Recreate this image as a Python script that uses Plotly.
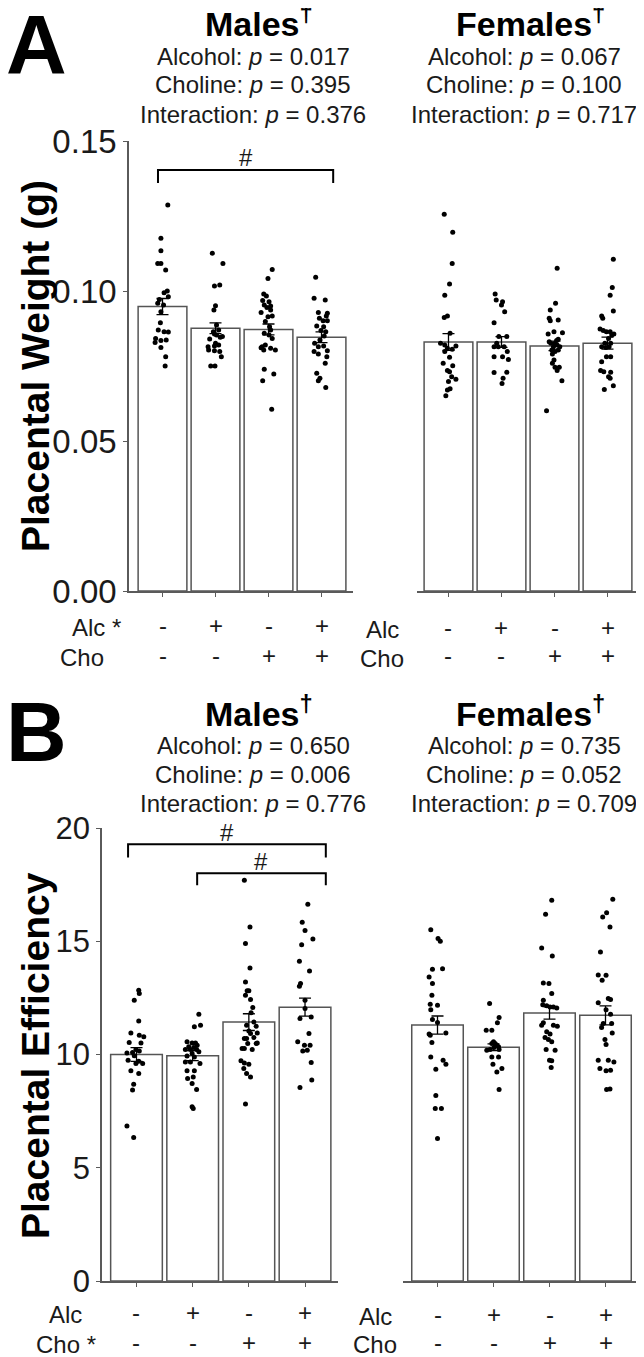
import plotly.graph_objects as go

# ---------------- data ----------------
alc_signs = ["-", "+", "-", "+"]
cho_signs = ["-", "-", "+", "+"]

# Panel A: placental weight (g)
weight_male_mean = [0.0948, 0.0876, 0.0872, 0.0846]
weight_male_sem = [0.0027, 0.0018, 0.0018, 0.0018]
weight_female_mean = [0.0830, 0.0830, 0.0817, 0.0826]
weight_female_sem = [0.0028, 0.0018, 0.0016, 0.0020]

weight_male_pts = [
    [0.1287, 0.1176, 0.1134, 0.1092, 0.1092, 0.1070, 0.1000, 0.0994, 0.0972, 0.0981, 0.0959, 0.0953,
     0.0931, 0.0894, 0.0870, 0.0864, 0.0863, 0.0842, 0.0835, 0.0837, 0.0828, 0.0812, 0.0781, 0.0750],
    [0.1126, 0.1092, 0.1017, 0.1020, 0.0951, 0.0937, 0.0887, 0.0864, 0.0870, 0.0857, 0.0848, 0.0853,
     0.0840, 0.0846, 0.0826, 0.0814, 0.0817, 0.0820, 0.0803, 0.0801, 0.0798, 0.0781, 0.0750, 0.0750],
    [0.1072, 0.1042, 0.0990, 0.0983, 0.0968, 0.0964, 0.0953, 0.0950, 0.0945, 0.0928, 0.0937, 0.0917,
     0.0914, 0.0898, 0.0881, 0.0870, 0.0859, 0.0853, 0.0842, 0.0814, 0.0820, 0.0809, 0.0811, 0.0803,
     0.0803, 0.0739, 0.0723, 0.0701, 0.0606],
    [0.1046, 0.0976, 0.0970, 0.0928, 0.0926, 0.0917, 0.0909, 0.0901, 0.0901, 0.0883, 0.0881, 0.0868,
     0.0864, 0.0850, 0.0837, 0.0826, 0.0814, 0.0817, 0.0801, 0.0798, 0.0790, 0.0781, 0.0759, 0.0726,
     0.0709, 0.0701, 0.0678],
]
weight_male_jit = [
    [0.10, -0.03, -0.03, -0.09, -0.03, 0.06, 0.09, 0.03, -0.06, 0.11, -0.09, 0.02, -0.03, -0.04, -0.08,
     0.03, 0.11, -0.13, -0.03, 0.07, -0.14, -0.03, 0.06, 0.05],
    [-0.06, 0.14, -0.02, 0.08, 0.00, -0.03, 0.02, -0.04, 0.06, -0.02, 0.13, 0.02, -0.11, 0.09, 0.00,
     -0.14, -0.02, 0.06, -0.13, -0.02, 0.08, 0.11, -0.09, -0.01],
    [0.07, -0.01, -0.09, -0.04, -0.11, 0.01, -0.08, 0.04, -0.03, -0.14, 0.04, 0.07, -0.01, -0.06, 0.02,
     0.04, -0.08, 0.01, 0.07, -0.12, -0.06, 0.04, -0.14, -0.09, 0.13, -0.08, 0.10, -0.11, 0.06],
    [-0.11, -0.14, 0.07, -0.06, 0.11, 0.09, -0.04, 0.03, 0.11, -0.09, 0.04, -0.01, 0.08, 0.05, -0.03,
     -0.13, -0.06, 0.04, 0.11, -0.14, -0.06, 0.10, 0.07, -0.09, -0.03, -0.06, 0.08],
]
weight_female_pts = [
    [0.1256, 0.1196, 0.1092, 0.1023, 0.0986, 0.0912, 0.0917, 0.0859, 0.0826, 0.0820, 0.0817, 0.0809,
     0.0806, 0.0798, 0.0779, 0.0759, 0.0751, 0.0735, 0.0731, 0.0714, 0.0706, 0.0698, 0.0674, 0.0670, 0.0651],
    [0.0990, 0.0970, 0.0964, 0.0953, 0.0931, 0.0894, 0.0848, 0.0848, 0.0814, 0.0814, 0.0814, 0.0798,
     0.0772, 0.0781, 0.0781, 0.0728, 0.0729, 0.0709, 0.0692, 0.0826],
    [0.1076, 0.0959, 0.0937, 0.0909, 0.0901, 0.0903, 0.0864, 0.0857, 0.0861, 0.0839, 0.0826, 0.0826,
     0.0820, 0.0814, 0.0814, 0.0803, 0.0798, 0.0803, 0.0790, 0.0770, 0.0759, 0.0746, 0.0746, 0.0735,
     0.0701, 0.0601, 0.0831, 0.0835],
    [0.1106, 0.1012, 0.0986, 0.0933, 0.0917, 0.0909, 0.0873, 0.0868, 0.0864, 0.0864, 0.0857, 0.0853,
     0.0842, 0.0826, 0.0826, 0.0814, 0.0812, 0.0814, 0.0781, 0.0781, 0.0764, 0.0735, 0.0731, 0.0729,
     0.0714, 0.0709, 0.0684, 0.0672],
]
weight_female_jit = [
    [-0.08, 0.08, 0.07, 0.02, -0.07, -0.08, -0.02, 0.03, -0.15, -0.07, 0.14, -0.02, 0.07, -0.07, 0.02,
     -0.10, 0.08, -0.02, 0.02, 0.06, 0.14, 0.00, 0.03, -0.02, -0.05],
    [-0.12, -0.10, 0.02, 0.00, 0.06, -0.14, 0.10, -0.05, -0.14, -0.06, 0.05, 0.11, 0.13, 0.02, -0.14,
     -0.14, 0.10, 0.03, 0.01, -0.09],
    [0.05, 0.02, -0.08, -0.10, -0.08, 0.07, -0.01, -0.12, 0.15, 0.07, -0.07, 0.01, 0.05, 0.10, -0.02,
     -0.05, 0.01, 0.07, -0.04, -0.01, -0.04, 0.01, 0.09, 0.05, 0.14, -0.15, -0.10, 0.04],
    [0.11, 0.09, 0.05, 0.11, -0.11, -0.09, -0.14, -0.08, -0.02, 0.05, 0.12, 0.08, 0.02, -0.05, 0.06,
     -0.11, -0.03, 0.03, -0.02, 0.06, -0.11, -0.13, -0.07, 0.06, 0.02, 0.05, 0.11, -0.06],
]

# Panel B: placental efficiency
eff_male_mean = [10.00, 9.95, 11.43, 12.09]
eff_male_sem = [0.30, 0.22, 0.37, 0.40]
eff_female_mean = [11.30, 10.32, 11.83, 11.73]
eff_female_sem = [0.40, 0.15, 0.27, 0.42]

eff_male_pts = [
    [12.84, 12.69, 12.40, 11.48, 10.95, 10.85, 10.78, 10.53, 10.51, 10.22, 10.15, 10.09, 10.07, 9.94,
     9.75, 9.70, 9.60, 9.60, 9.28, 9.16, 8.69, 8.43, 6.84, 6.34],
    [11.78, 11.29, 11.22, 10.56, 10.51, 10.51, 10.41, 10.34, 10.31, 10.22, 10.22, 10.22, 10.12, 10.04,
     9.93, 9.89, 9.67, 9.67, 9.60, 9.28, 9.28, 9.01, 8.94, 8.72, 8.46, 7.69, 7.62],
    [17.69, 15.63, 14.90, 13.82, 13.20, 12.81, 12.81, 12.62, 12.43, 12.07, 11.84, 11.44, 11.29, 11.25,
     11.04, 10.95, 10.93, 10.71, 10.71, 10.75, 10.49, 10.49, 10.26, 10.26, 10.22, 10.51, 9.72, 9.63,
     9.57, 9.38, 9.16, 9.01, 7.81],
    [16.63, 15.84, 15.48, 15.10, 14.84, 14.12, 13.69, 13.13, 13.01, 12.40, 12.03, 11.66, 11.59, 10.93,
     10.56, 10.41, 10.41, 10.19, 10.16, 9.65, 8.87, 8.54],
]
eff_male_jit = [
    [0.04, 0.05, -0.04, 0.04, -0.10, 0.05, 0.13, -0.13, 0.08, -0.01, 0.05, -0.07, -0.17, -0.04, -0.15,
     0.04, -0.01, 0.11, -0.10, 0.04, -0.05, -0.07, -0.17, -0.05],
    [0.11, 0.14, 0.03, -0.10, -0.01, 0.05, 0.08, -0.07, 0.02, -0.13, -0.04, 0.07, 0.11, -0.01, -0.10,
     0.03, -0.04, -0.13, 0.13, -0.10, 0.03, 0.01, -0.09, -0.01, 0.07, -0.01, 0.01],
    [-0.08, 0.02, -0.06, 0.02, -0.06, -0.03, 0.00, -0.06, 0.03, 0.07, 0.04, 0.09, -0.04, 0.13, 0.00,
     0.15, 0.03, -0.08, -0.04, 0.09, -0.02, 0.13, -0.12, -0.08, 0.06, 0.15, -0.14, -0.08, 0.00, -0.09,
     -0.04, 0.03, -0.06],
    [0.05, -0.05, 0.00, 0.14, -0.06, -0.10, 0.08, -0.08, -0.10, 0.00, 0.00, 0.11, -0.09, 0.07, -0.13,
     -0.01, 0.09, 0.04, -0.04, 0.11, 0.12, -0.09],
]
eff_female_pts = [
    [15.51, 15.12, 15.00, 13.76, 13.79, 13.42, 13.13, 12.62, 12.22, 12.17, 11.98, 11.54, 11.41, 10.90,
     10.85, 10.95, 10.53, 9.89, 9.75, 9.57, 9.35, 8.19, 7.62, 7.62, 6.29],
    [12.25, 11.63, 11.40, 11.07, 11.07, 10.56, 10.49, 10.49, 10.19, 10.22, 10.22, 10.41, 10.31, 10.34,
     9.89, 9.89, 9.57, 9.38, 9.23, 8.46],
    [16.81, 16.19, 14.70, 14.35, 13.16, 13.13, 12.69, 12.40, 12.20, 12.15, 12.10, 12.10, 12.05, 11.40,
     11.29, 11.29, 11.25, 11.00, 10.90, 10.75, 10.66, 10.56, 10.22, 10.19, 9.75, 9.72, 9.43],
    [16.85, 16.26, 16.07, 15.63, 14.53, 13.51, 13.50, 13.28, 12.28, 12.47, 12.43, 11.98, 11.78, 11.37,
     11.37, 11.19, 10.95, 10.66, 10.44, 9.75, 9.75, 9.67, 9.38, 9.28, 9.31, 8.46, 8.48],
]
eff_female_jit = [
    [-0.12, 0.01, 0.05, -0.09, 0.09, -0.15, -0.09, -0.10, -0.13, 0.00, -0.12, -0.09, 0.00, -0.15, -0.13,
     0.15, -0.10, -0.12, 0.10, 0.15, -0.03, -0.03, -0.04, 0.07, 0.00],
    [-0.07, 0.10, 0.07, -0.13, -0.03, 0.00, -0.03, 0.03, -0.12, -0.06, 0.10, 0.06, 0.01, 0.09, -0.03,
     0.09, -0.01, 0.15, 0.06, 0.10],
    [0.04, -0.07, -0.14, 0.05, -0.11, -0.01, 0.04, -0.11, -0.12, -0.05, 0.01, 0.07, 0.13, -0.11, -0.14,
     0.07, 0.14, -0.05, 0.01, -0.08, -0.02, 0.04, -0.06, 0.10, 0.00, 0.04, 0.03],
    [0.13, 0.02, -0.05, 0.08, -0.09, -0.13, 0.01, -0.06, -0.13, 0.05, 0.09, 0.01, 0.09, -0.04, 0.11,
     -0.07, 0.12, -0.01, 0.01, -0.13, 0.05, 0.15, -0.10, 0.01, 0.09, 0.02, 0.08],
]

p_A_male = ["0.017", "0.395", "0.376"]
p_A_female = ["0.067", "0.100", "0.717"]
p_B_male = ["0.650", "0.006", "0.776"]
p_B_female = ["0.735", "0.052", "0.709"]
p_terms = ["Alcohol", "Choline", "Interaction"]

# ---------------- layout helpers ----------------
# the page body adds an 8 px margin, so the figure is drawn 8 px in from the window corner
OFF = 8
W, H = 644 - OFF, 1357 - OFF
FONT = "Arial, 'Liberation Sans', sans-serif"
AX = "#5a5a5a"
BAR_LINE = "#555555"
TXT = "#1a1a1a"


def px(x):
    return (x - OFF) / W


def py(y):
    return 1 - (y - OFF) / H


fig = go.Figure()

panels = [
    ("x", "y", weight_male_mean, weight_male_sem, weight_male_pts, weight_male_jit,
     (129, 353), (-0.632, 3.594), (591, 141), (0, 0.15), 33),
    ("x2", "y2", weight_female_mean, weight_female_sem, weight_female_pts, weight_female_jit,
     (417, 641), (-0.594, 3.632), (591, 141), (0, 0.15), 33),
    ("x3", "y3", eff_male_mean, eff_male_sem, eff_male_pts, eff_male_jit,
     (102, 338), (-0.614, 3.587), (1281, 828), (0, 20), 31),
    ("x4", "y4", eff_female_mean, eff_female_sem, eff_female_pts, eff_female_jit,
     (403, 640), (-0.616, 3.616), (1281, 828), (0, 20), 31),
]

layout_axes = {}
for k, (xa, ya, mean, sem, pts, jit, xdom, xr, ydom, yr, tfs) in enumerate(panels):
    fig.add_trace(go.Bar(
        x=[0, 1, 2, 3], y=mean, width=0.92,
        marker=dict(color="white", line=dict(color=BAR_LINE, width=1.5)),
        error_y=dict(type="data", array=sem, visible=True, color="black", thickness=1.3, width=6),
        xaxis=xa, yaxis=ya, showlegend=False, hoverinfo="skip"))
    xs, ys = [], []
    for g in range(4):
        for v, j in zip(pts[g], jit[g]):
            xs.append(g + j)
            ys.append(v)
    fig.add_trace(go.Scatter(
        x=xs, y=ys, mode="markers",
        marker=dict(color="black", size=5, line=dict(width=0)),
        xaxis=xa, yaxis=ya, showlegend=False, hoverinfo="skip", cliponaxis=False))

    xname = "xaxis" if xa == "x" else "xaxis" + xa[1:]
    yname = "yaxis" if ya == "y" else "yaxis" + ya[1:]
    is_male = k in (0, 2)
    layout_axes[xname] = dict(
        domain=[px(xdom[0]), min(1.0, px(xdom[1]))], range=list(xr), anchor=ya, automargin=False,
        showline=True, linecolor=AX, linewidth=1.6, ticks="outside", tickvals=[0, 1, 2, 3],
        ticklen=4, tickwidth=1.2, tickcolor=AX, showticklabels=False, showgrid=False,
        zeroline=False, fixedrange=True)
    if k < 2:
        tv = [0, 0.05, 0.10, 0.15]
        tt = ["0.00", "0.05", "0.10", "0.15"]
    else:
        tv = [0, 5, 10, 15, 20]
        tt = ["0", "5", "10", "15", "20"]
    layout_axes[yname] = dict(
        domain=[py(ydom[0]), py(ydom[1])], range=list(yr), anchor=xa, automargin=False,
        showline=is_male, linecolor=AX, linewidth=1.6,
        ticks="outside" if is_male else "", ticklen=4, tickwidth=1.2, tickcolor=AX,
        tickvals=tv, ticktext=tt, showticklabels=is_male,
        tickfont=dict(family=FONT, size=tfs, color=TXT),
        showgrid=False, zeroline=False, fixedrange=True)

fig.update_layout(**layout_axes)

annotations = []
shapes = []


def text(x, y, s, size, bold=False, xref="paper", yref="paper", angle=0, xanchor="center"):
    annotations.append(dict(
        x=x, y=y, xref=xref, yref=yref, text=("<b>%s</b>" % s) if bold else s,
        showarrow=False, xanchor=xanchor, yanchor="middle", textangle=angle,
        font=dict(family=FONT, size=size, color="black" if bold else TXT)))


# panel letters
text(px(37), py(45), "A", 84, bold=True)
text(px(37), py(732), "B", 84, bold=True)

# titles and p-values
for cx, title, pv, top in [
    (253, "Males<sup>†</sup>", p_A_male, 22), (524, "Females<sup>†</sup>", p_A_female, 22),
    (253, "Males<sup>†</sup>", p_B_male, 711), (524, "Females<sup>†</sup>", p_B_female, 711),
]:
    text(px(cx + 6), py(top), title, 34, bold=True)
    for i, (term, p) in enumerate(zip(p_terms, pv)):
        text(px(cx), py(top + 34 + 29 * i), "%s: <i>p</i> = %s" % (term, p), 24)

# y-axis titles
text(px(35), py(366), "Placental Weight (g)", 39, bold=True, angle=-90)
text(px(35), py(1056), "Placental Efficiency", 39, bold=True, angle=-90)

# treatment rows under each panel
rows = [
    ("x", 625, 655, "Alc *", "Cho", 96, 82),
    ("x2", 627, 656, "Alc", "Cho", 382, 382),
    ("x3", 1312, 1342, "Alc", "Cho *", 66, 66),
    ("x4", 1314, 1342, "Alc", "Cho", 375, 375),
]
for xa, ya_alc, ya_cho, lab_a, lab_c, xa_lab, xc_lab in rows:
    for g in range(4):
        text(g, py(ya_alc), alc_signs[g], 24, xref=xa)
        text(g, py(ya_cho), cho_signs[g], 24, xref=xa)
    text(px(xa_lab), py(ya_alc + 2), lab_a, 24)
    text(px(xc_lab), py(ya_cho + 2), lab_c, 24)

# significance brackets: (x-axis, y-axis, left, right, top value, bottom value, label y)
brackets = [
    ("x", "y", -0.085, 3.22, 0.1403, 0.1360, 0.1445),
    ("x3", "y3", -0.15, 3.37, 19.28, 18.70, 19.78),
    ("x3", "y3", 1.08, 3.37, 18.00, 17.47, 18.50),
]
for xa, ya, x0, x1, ytop, ybot, ylab in brackets:
    shapes.append(dict(
        type="path", xref=xa, yref=ya,
        path="M %f,%f L %f,%f L %f,%f L %f,%f" % (x0, ybot, x0, ytop, x1, ytop, x1, ybot),
        line=dict(color="black", width=2)))
    text((x0 + x1) / 2, ylab, "#", 24, xref=xa, yref=ya)

fig.update_layout(
    width=W, height=H, autosize=False,
    margin=dict(l=0, r=0, t=0, b=0, pad=0),
    paper_bgcolor="white", plot_bgcolor="white",
    barmode="overlay", showlegend=False,
    annotations=annotations, shapes=shapes,
    font=dict(family=FONT, color=TXT),
)

fig.write_html("out.html")
